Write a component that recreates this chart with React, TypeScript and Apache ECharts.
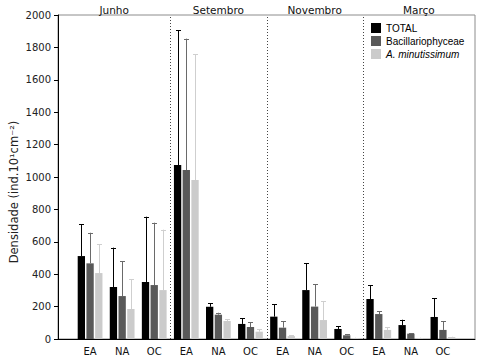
import React, { useEffect, useRef } from "react";
import * as echarts from "echarts";

const categories = ["EA", "NA", "OC", "EA", "NA", "OC", "EA", "NA", "OC", "EA", "NA", "OC"];
const months = ["Junho", "Setembro", "Novembro", "Março"];
const monthBounds = [-1, 2.5, 5.5, 8.5, 12];
const seriesNames = ["TOTAL", "Bacillariophyceae", "A. minutissimum"];

const totalMean = [512, 321, 352, 1074, 199, 93, 138, 302, 62, 247, 86, 136];
const totalSd = [196, 243, 403, 831, 21, 35, 76, 167, 16, 84, 33, 115];
const bacMean = [467, 265, 333, 1043, 150, 74, 70, 200, 23, 154, 33, 56];
const bacSd = [189, 214, 385, 811, 12, 29, 39, 137, 6, 17, 4, 53];
const aminMean = [407, 185, 302, 981, 111, 45, 18, 117, 6, 56, 6, 12];
const aminSd = [177, 183, 373, 776, 10, 15, 4, 116, 2, 18, 2, 2];

const yTicks = { min: 0, max: 2000, interval: 200 };

const FONT = "DejaVu Sans";
const FONT2 = "Liberation Sans";

function barRender(slot: number, color: string, errColor: string) {
  return (params: any, api: any) => {
    const x = api.value(0);
    const v = api.value(1);
    const sd = api.value(2);
    const unit = api.size([1, 0])[0];
    const bw = unit * 0.228;
    const step = unit * 0.272;
    const base = api.coord([x, 0]);
    const top = api.coord([x, v]);
    const up = api.coord([x, v + sd]);
    const cx = base[0] + slot * step;
    const children: any[] = [
      {
        type: "rect",
        shape: { x: cx - bw / 2, y: top[1], width: bw, height: base[1] - top[1] },
        style: { fill: color },
      },
    ];
    if (sd > 0) {
      const lx = Math.round(cx) + 0.5;
      children.push({
        type: "line",
        shape: { x1: lx, y1: top[1], x2: lx, y2: up[1] },
        style: { stroke: errColor, lineWidth: 1 },
      });
      children.push({
        type: "line",
        shape: { x1: lx - 2.5, y1: Math.round(up[1]) + 0.5, x2: lx + 2.5, y2: Math.round(up[1]) + 0.5 },
        style: { stroke: errColor, lineWidth: 1 },
      });
    }
    return { type: "group", children };
  };
}

export default function App() {
  const ref = useRef<HTMLDivElement>(null);
  useEffect(() => {
    if (!ref.current) return;
    const chart = echarts.init(ref.current, null, { renderer: "svg" });
    const colors = ["#000000", "#595959", "#cbcbcb"];
    const errColors = ["#000000", "#6a6a6a", "#cfcfcf"];
    const means = [totalMean, bacMean, aminMean];
    const sds = [totalSd, bacSd, aminSd];
    const dividers = monthBounds.slice(1, -1);
    const monthCenters = months.map((_, i) => (monthBounds[i] + monthBounds[i + 1]) / 2);

    const barSeries = seriesNames.map((name, s) => ({
      name,
      type: "custom",
      clip: false,
      itemStyle: { color: colors[s] },
      encode: { x: 0, y: 1 },
      data: categories.map((_, i) => [i, means[s][i], sds[s][i]]),
      renderItem: barRender(s - 1, colors[s], errColors[s]),
      z: 3,
    }));

    chart.setOption({
      animation: false,
      backgroundColor: "#ffffff",
      textStyle: { fontFamily: FONT },
      grid: {
        left: 58,
        top: 15,
        right: 6,
        bottom: 22,
        show: true,
        borderColor: "#8c8c8c",
        borderWidth: 1,
      },
      legend: {
        orient: "vertical",
        left: 371,
        top: 22,
        padding: 0,
        itemWidth: 10,
        itemHeight: 10,
        itemGap: 1,
        icon: "rect",
        textStyle: { fontFamily: FONT2, fontSize: 10, color: "#000", lineHeight: 12 },
        data: [
          { name: seriesNames[0] },
          { name: seriesNames[1] },
          { name: seriesNames[2], textStyle: { fontStyle: "italic" } },
        ],
        selectedMode: false,
      },
      xAxis: {
        type: "value",
        min: -1,
        max: 12,
        interval: 1,
        splitLine: { show: false },
        axisTick: { show: false },
        axisLine: { show: true, onZero: false, lineStyle: { color: "#000", width: 1 } },
        axisLabel: {
          margin: 7,
          fontFamily: FONT,
          fontSize: 10,
          color: "#111",
          formatter: (v: number) => (Number.isInteger(v) && categories[v] ? categories[v] : ""),
        },
      },
      yAxis: {
        type: "value",
        min: yTicks.min,
        max: yTicks.max,
        interval: yTicks.interval,
        splitLine: { show: false },
        axisLine: { show: true, onZero: false, lineStyle: { color: "#000", width: 1 } },
        axisTick: { show: true, length: 4, lineStyle: { color: "#000" } },
        axisLabel: {
          margin: 7,
          fontFamily: FONT,
          fontSize: 10,
          color: "#222",
          formatter: (v: number) => String(v),
        },
      },
      graphic: [
        {
          type: "text",
          x: 14,
          y: 192,
          rotation: Math.PI / 2,
          style: {
            text: "Densidade (ind.10¹cm⁻²)",
            fill: "#222",
            font: `11.5px "${FONT}"`,
            textAlign: "center",
            verticalAlign: "middle",
          },
        },
      ],
      series: [
        ...barSeries,
        {
          name: "dividers",
          type: "custom",
          silent: true,
          clip: false,
          encode: { x: 0, y: 1 },
          data: dividers.map((d) => [d, 0]),
          renderItem: (params: any, api: any) => {
            const x = api.value(0);
            const a = api.coord([x, yTicks.min]);
            const b = api.coord([x, yTicks.max]);
            const px = Math.round(a[0]) + 0.5;
            return {
              type: "line",
              shape: { x1: px, y1: a[1], x2: px, y2: b[1] },
              style: { stroke: "#444", lineWidth: 1, lineDash: [1, 2] },
            };
          },
          z: 1,
        },
        {
          name: "months",
          type: "custom",
          silent: true,
          clip: false,
          encode: { x: 0, y: 1 },
          data: monthCenters.map((c) => [c, yTicks.max]),
          renderItem: (params: any, api: any) => {
            const p = api.coord([api.value(0), api.value(1)]);
            return {
              type: "text",
              x: p[0],
              y: p[1] - 5.5,
              style: {
                text: months[params.dataIndex],
                fill: "#111",
                font: `10.5px "${FONT}"`,
                textAlign: "center",
                verticalAlign: "middle",
              },
            };
          },
        },
      ],
    });
    return () => chart.dispose();
  }, []);
  return (
    <div
      ref={ref}
      style={{ position: "fixed", left: 0, top: 0, width: 481, height: 361, background: "#fff" }}
    />
  );
}
